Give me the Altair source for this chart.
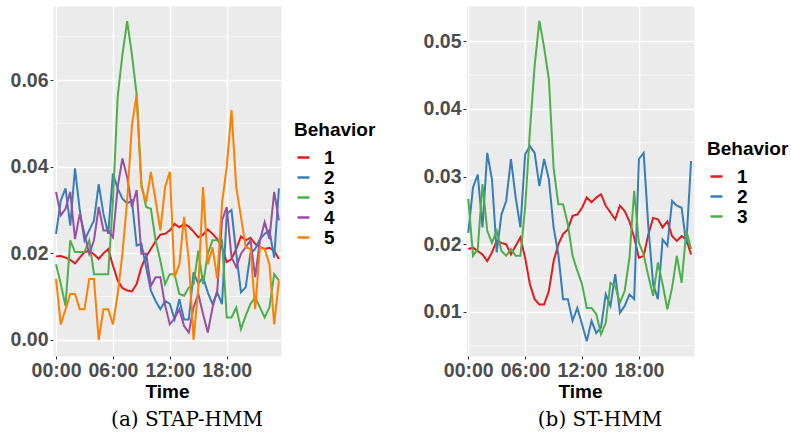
import altair as alt
import pandas as pd

hours = [0.5 * k for k in range(48)]

# Panel (a) STAP-HMM
a_b1 = [0.0193, 0.0194, 0.0190, 0.0185, 0.0177, 0.0190, 0.0203, 0.0205, 0.0198, 0.0187, 0.0200, 0.0210,
        0.0172, 0.0137, 0.0120, 0.0114, 0.0112, 0.0129, 0.0168, 0.0193, 0.0210, 0.0228, 0.0243, 0.0245,
        0.0253, 0.0268, 0.0260, 0.0268, 0.0262, 0.0250, 0.0237, 0.0243, 0.0255, 0.0245, 0.0233, 0.0214,
        0.0180, 0.0187, 0.0210, 0.0239, 0.0230, 0.0236, 0.0222, 0.0214, 0.0210, 0.0213, 0.0206, 0.0187]
a_b2 = [0.0245, 0.0322, 0.0350, 0.0264, 0.0396, 0.0300, 0.0230, 0.0253, 0.0276, 0.0360, 0.0291, 0.0245,
        0.0384, 0.0350, 0.0326, 0.0315, 0.0322, 0.0218, 0.0222, 0.0168, 0.0114, 0.0090, 0.0071, 0.0090,
        0.0083, 0.0048, 0.0094, 0.0047, 0.0047, 0.0156, 0.0130, 0.0145, 0.0110, 0.0083, 0.0110, 0.0083,
        0.0291, 0.0300, 0.0200, 0.0110, 0.0122, 0.0200, 0.0210, 0.0233, 0.0245, 0.0253, 0.0190, 0.0350]
a_b3 = [0.0175, 0.0129, 0.0079, 0.0230, 0.0203, 0.0203, 0.0203, 0.0230, 0.0152, 0.0152, 0.0152, 0.0152,
        0.0320, 0.0562, 0.0659, 0.0736, 0.0659, 0.0567, 0.0360, 0.0307, 0.0303, 0.0230, 0.0183, 0.0129,
        0.0152, 0.0152, 0.0106, 0.0102, 0.0121, 0.0129, 0.0206, 0.0129, 0.0199, 0.0230, 0.0230, 0.0230,
        0.0052, 0.0052, 0.0075, 0.0025, 0.0056, 0.0083, 0.0098, 0.0075, 0.0052, 0.0075, 0.0152, 0.0137]
a_b4 = [0.0342, 0.0288, 0.0303, 0.0342, 0.0233, 0.0291, 0.0245, 0.0199, 0.0230, 0.0307, 0.0253, 0.0253,
        0.0237, 0.0353, 0.0419, 0.0376, 0.0307, 0.0346, 0.0199, 0.0199, 0.0125, 0.0145, 0.0145, 0.0080,
        0.0036, 0.0050, 0.0071, 0.0032, 0.0017, 0.0075, 0.0106, 0.0060, 0.0017, 0.0075, 0.0114, 0.0276,
        0.0307, 0.0191, 0.0168, 0.0199, 0.0214, 0.0230, 0.0145, 0.0230, 0.0272, 0.0233, 0.0342, 0.0276]
a_b5 = [0.0141, 0.0036, 0.0071, 0.0106, 0.0106, 0.0071, 0.0071, 0.0141, 0.0141, 0.0000, 0.0071, 0.0071,
        0.0036, 0.0106, 0.0199, 0.0322, 0.0496, 0.0566, 0.0353, 0.0318, 0.0388, 0.0322, 0.0253, 0.0353,
        0.0388, 0.0145, 0.0175, 0.0284, 0.0183, 0.0000, 0.0121, 0.0353, 0.0175, 0.0214, 0.0141, 0.0315,
        0.0400, 0.0531, 0.0353, 0.0284, 0.0214, 0.0210, 0.0071, 0.0214, 0.0210, 0.0175, 0.0036, 0.0137]

# Panel (b) ST-HMM
b_b1 = [0.0193, 0.0195, 0.0190, 0.0185, 0.0175, 0.0188, 0.0205, 0.0202, 0.0200, 0.0185, 0.0198, 0.0210,
        0.0180, 0.0141, 0.0119, 0.0111, 0.0111, 0.0131, 0.0175, 0.0200, 0.0215, 0.0222, 0.0242, 0.0244,
        0.0254, 0.0269, 0.0262, 0.0269, 0.0274, 0.0257, 0.0247, 0.0237, 0.0257, 0.0249, 0.0234, 0.0210,
        0.0180, 0.0183, 0.0215, 0.0239, 0.0237, 0.0225, 0.0234, 0.0212, 0.0205, 0.0212, 0.0207, 0.0185]
b_b2 = [0.0217, 0.0284, 0.0303, 0.0225, 0.0335, 0.0296, 0.0188, 0.0244, 0.0264, 0.0326, 0.0269, 0.0225,
        0.0333, 0.0345, 0.0335, 0.0286, 0.0326, 0.0296, 0.0225, 0.0185, 0.0119, 0.0119, 0.0087, 0.0106,
        0.0082, 0.0057, 0.0087, 0.0069, 0.0077, 0.0126, 0.0109, 0.0156, 0.0099, 0.0109, 0.0126, 0.0119,
        0.0326, 0.0335, 0.0225, 0.0141, 0.0119, 0.0207, 0.0198, 0.0264, 0.0257, 0.0254, 0.0200, 0.0323]
b_b3 = [0.0267, 0.0183, 0.0193, 0.0289, 0.0220, 0.0202, 0.0220, 0.0190, 0.0183, 0.0193, 0.0183, 0.0183,
        0.0254, 0.0367, 0.0464, 0.0530, 0.0491, 0.0444, 0.0313, 0.0259, 0.0259, 0.0230, 0.0183, 0.0161,
        0.0141, 0.0106, 0.0106, 0.0097, 0.0067, 0.0084, 0.0143, 0.0138, 0.0114, 0.0131, 0.0180, 0.0279,
        0.0202, 0.0185, 0.0153, 0.0124, 0.0173, 0.0141, 0.0104, 0.0136, 0.0183, 0.0143, 0.0220, 0.0193]

behaviors_a = ["1", "2", "3", "4", "5"]
behaviors_b = ["1", "2", "3"]
palette = ["#E41A1C", "#377EB8", "#4DAF4A", "#984EA3", "#FF7F00"]
time_ticks = [0, 6, 12, 18]
a_yticks = [0.0, 0.02, 0.04, 0.06]
a_yminor = [0.01, 0.03, 0.05, 0.07]
b_yticks = [0.01, 0.02, 0.03, 0.04, 0.05]
b_yminor = [0.005, 0.015, 0.025, 0.035, 0.045]

FONT = "Liberation Sans"


def long_df(names, series):
    rows = []
    for n, vals in zip(names, series):
        for t, v in zip(hours, vals):
            rows.append({"t": t, "v": v, "Behavior": n})
    return pd.DataFrame(rows)


def panel(names, series, colors, xdom, ydom, yticks, yminor, caption, lx, ly):
    df = long_df(names, series)
    yscale = alt.Scale(domain=ydom, nice=False, zero=False)
    xscale = alt.Scale(domain=xdom, nice=False, zero=False)
    yaxis = alt.Axis(values=yticks, format=".2f", title=None)
    minor = alt.Chart(pd.DataFrame({"v": yminor})).mark_rule(
        color="white", strokeWidth=0.7
    ).encode(y=alt.Y("v:Q", scale=yscale, axis=yaxis))
    lines = alt.Chart(df).mark_line(strokeWidth=2, clip=True).encode(
        x=alt.X("t:Q", scale=xscale,
                axis=alt.Axis(values=time_ticks, title="Time",
                              labelExpr="(datum.value < 10 ? '0' : '') + datum.value + ':00'")),
        y=alt.Y("v:Q", scale=yscale, axis=yaxis),
        color=alt.Color("Behavior:N", sort=names,
                        scale=alt.Scale(domain=names, range=colors),
                        legend=alt.Legend(orient="none", legendX=lx, legendY=ly,
                                          title="Behavior", titleFont=FONT, titleFontSize=19,
                                          titleFontWeight="bold", titleColor="black",
                                          titlePadding=8, labelFont=FONT, labelFontSize=19,
                                          labelFontWeight="bold", labelColor="black",
                                          labelOffset=11, symbolType="stroke",
                                          symbolStrokeWidth=2.5, symbolSize=144,
                                          rowPadding=0, padding=0)),
        order=alt.Order("t:Q"),
    )
    return alt.layer(minor, lines).properties(
        width=228, height=350,
        title=alt.TitleParams(text=caption, orient="bottom", font="DejaVu Serif",
                              fontSize=20, fontWeight="normal", color="black",
                              anchor="middle", frame="group", dx=20, offset=8),
    )


left = panel(behaviors_a, [a_b1, a_b2, a_b3, a_b4, a_b5], palette,
             [-0.32, 23.72], [-0.0037, 0.0771], a_yticks, a_yminor,
             "(a) STAP-HMM", 241, 115)
right = panel(behaviors_b, [b_b1, b_b2, b_b3], palette[:3],
              [-0.24, 23.81], [0.0035, 0.0552], b_yticks, b_yminor,
              "(b) ST-HMM", 241, 134)

chart = alt.hconcat(left, right, spacing=45).resolve_scale(
    color="independent", x="independent", y="independent"
).properties(
    padding={"left": 9, "top": 5, "right": 0, "bottom": 0},
    background="white",
).configure_view(
    fill="#EBEBEB", stroke="transparent"
).configure_axis(
    grid=True, gridColor="white", gridWidth=1.4, domain=False,
    tickColor="#333333", tickSize=3, tickWidth=1,
    labelFont=FONT, labelFontSize=19.5, labelFontWeight="bold", labelColor="#4D4D4D",
    labelPadding=2, titleFont=FONT, titleFontSize=19, titleFontWeight="bold",
    titleColor="black", titlePadding=3,
)

chart.save("out.html", embed_options={"renderer": "svg", "actions": False})
